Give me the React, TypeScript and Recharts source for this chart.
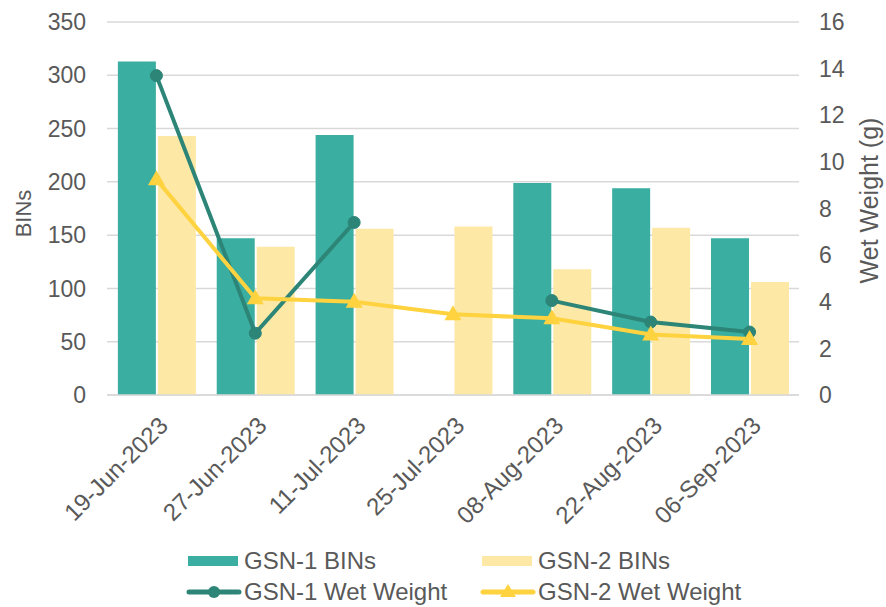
import { ComposedChart, Bar, Line, XAxis, YAxis, CartesianGrid, Legend, Label } from 'recharts';

const dates = ['19-Jun-2023', '27-Jun-2023', '11-Jul-2023', '25-Jul-2023', '08-Aug-2023', '22-Aug-2023', '06-Sep-2023'];
const gsn1Bins = [313, 147, 244, null, 199, 194, 147];
const gsn2Bins = [243, 139, 156, 158, 118, 157, 106];
const gsn1Weight = [13.7, 2.65, 7.4, null, 4.05, 3.13, 2.7];
const gsn2Weight = [9.25, 4.15, 4.0, 3.46, 3.29, 2.6, 2.4];
const binTicks = [0, 50, 100, 150, 200, 250, 300, 350];
const weightTicks = [0, 2, 4, 6, 8, 10, 12, 14, 16];

const data = dates.map((d, i) => ({
  date: d,
  gsn1Bins: gsn1Bins[i],
  gsn2Bins: gsn2Bins[i],
  gsn1Weight: gsn1Weight[i],
  gsn2Weight: gsn2Weight[i],
}));

const TEXT = '#595959';
const GRID = '#D9D9D9';
const FONT = '"Liberation Sans", Arial, sans-serif';
const TEAL = '#3AAEA0';
const PALE = '#FDE8A6';
const DARK_TEAL = '#2C8577';
const YELLOW = '#FFD23F';

const XTick = ({ x, y, payload }: any) => {
  const ax = x + 13;
  const ay = y + 32;
  return (
    <text x={ax} y={ay} textAnchor="end" fill={TEXT} fontSize={24} fontFamily={FONT} transform={`rotate(-45 ${ax} ${ay})`}>
      {payload.value}
    </text>
  );
};

const Triangle = (props: any) => {
  const { cx, cy, fill } = props;
  if (cx == null || cy == null) return null;
  return <path d={`M${cx},${cy - 9} L${cx + 8.5},${cy + 6} L${cx - 8.5},${cy + 6} Z`} fill={fill} />;
};

const legendItems = [
  { label: 'GSN-1 BINs', kind: 'bar', color: TEAL },
  { label: 'GSN-2 BINs', kind: 'bar', color: PALE },
  { label: 'GSN-1 Wet Weight', kind: 'circle', color: DARK_TEAL },
  { label: 'GSN-2 Wet Weight', kind: 'tri', color: YELLOW },
];

const LegendContent = () => (
  <div style={{ display: 'grid', gridTemplateColumns: '294px 294px', fontFamily: FONT, fontSize: 24, color: TEXT }}>
    {legendItems.map((it) => (
      <div key={it.label} style={{ display: 'flex', alignItems: 'center', height: 31 }}>
        <svg width={56} height={20} style={{ marginRight: 2 }}>
          {it.kind === 'bar' && <rect x={2} y={5} width={50} height={10} fill={it.color} />}
          {it.kind !== 'bar' && <line x1={3} y1={10} x2={53} y2={10} stroke={it.color} strokeWidth={5} strokeLinecap="round" />}
          {it.kind === 'circle' && <circle cx={28} cy={10} r={6} fill={it.color} />}
          {it.kind === 'tri' && <path d="M28,2 L36,15 L20,15 Z" fill={it.color} />}
        </svg>
        <span>{it.label}</span>
      </div>
    ))}
  </div>
);

export default function App() {
  return (
    <div style={{ position: 'absolute', left: 0, top: 0, width: 886, height: 607, background: '#fff' }}>
      <ComposedChart
        width={886}
        height={607}
        data={data}
        margin={{ top: 22, right: 0, bottom: 0, left: 0 }}
        barCategoryGap="11%"
        barGap={2}
      >
        <CartesianGrid yAxisId="left" vertical={false} stroke={GRID} strokeWidth={1.5} />
        <XAxis
          dataKey="date"
          interval={0}
          height={212}
          tick={<XTick />}
          tickLine={false}
          tickSize={0}
          tickMargin={0}
          axisLine={{ stroke: GRID, strokeWidth: 1.5 }}
        />
        <YAxis
          yAxisId="left"
          width={107}
          domain={[0, 350]}
          ticks={binTicks}
          tickLine={false}
          axisLine={false}
          tickSize={0}
          tickMargin={21}
          tick={{ fill: TEXT, fontSize: 23, fontFamily: FONT }}
        >
          <Label value="BINs" angle={-90} position="center" dx={-30} dy={5} fill={TEXT} fontSize={22} fontFamily={FONT} />
        </YAxis>
        <YAxis
          yAxisId="right"
          orientation="right"
          width={87}
          domain={[0, 16]}
          ticks={weightTicks}
          tickLine={false}
          axisLine={false}
          tickSize={0}
          tickMargin={20}
          tick={{ fill: TEXT, fontSize: 23, fontFamily: FONT }}
        >
          <Label value="Wet Weight (g)" angle={-90} position="center" dx={27} dy={-8} fill={TEXT} fontSize={25} fontFamily={FONT} />
        </YAxis>
        <Bar yAxisId="left" dataKey="gsn1Bins" name="GSN-1 BINs" fill={TEAL} isAnimationActive={false} />
        <Bar yAxisId="left" dataKey="gsn2Bins" name="GSN-2 BINs" fill={PALE} isAnimationActive={false} />
        <Line
          yAxisId="right"
          dataKey="gsn1Weight"
          name="GSN-1 Wet Weight"
          stroke={DARK_TEAL}
          strokeWidth={4}
          dot={{ r: 6, fill: DARK_TEAL, stroke: DARK_TEAL, strokeWidth: 1 }}
          activeDot={false}
          connectNulls={false}
          isAnimationActive={false}
        />
        <Line
          yAxisId="right"
          dataKey="gsn2Weight"
          name="GSN-2 Wet Weight"
          stroke={YELLOW}
          strokeWidth={4}
          dot={<Triangle fill={YELLOW} />}
          activeDot={false}
          isAnimationActive={false}
        />
        <Legend
          layout="horizontal"
          verticalAlign="middle"
          align="center"
          content={<LegendContent />}
          wrapperStyle={{ top: 545, left: 186, width: 600 }}
        />
      </ComposedChart>
    </div>
  );
}
